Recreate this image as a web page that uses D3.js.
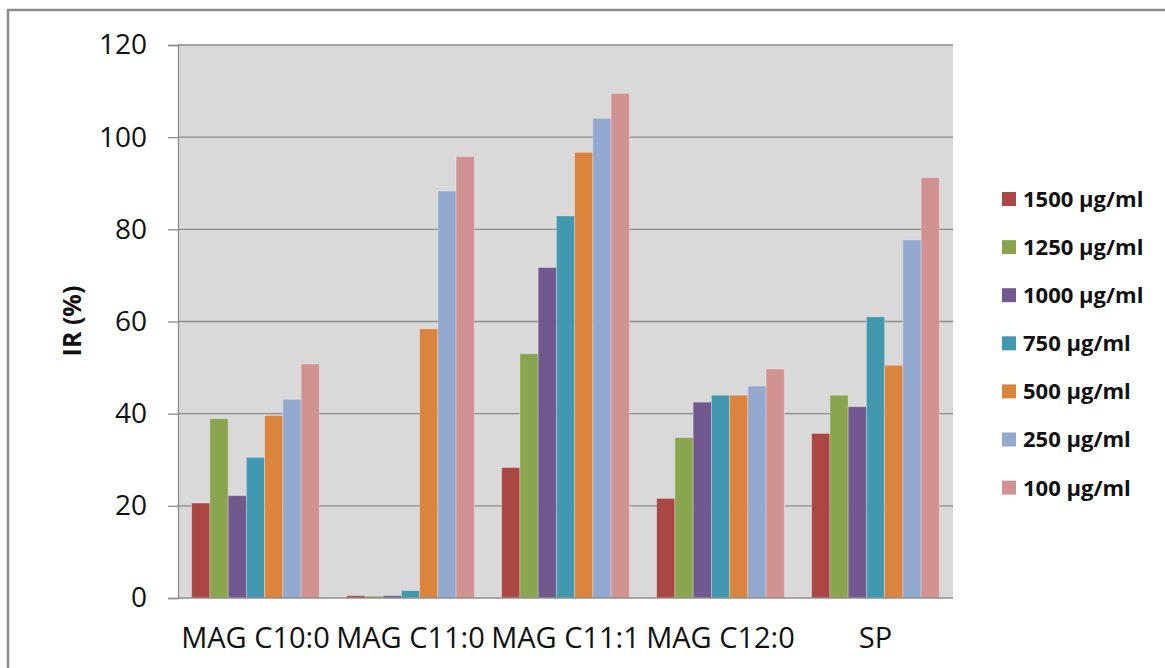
<!DOCTYPE html>
<html>
<head>
<meta charset="utf-8">
<script src="https://cdn.jsdelivr.net/npm/d3@7"></script>
<style>
  body { margin: 0; background: #fff; }
  svg { display: block; font-family: "Open Sans", sans-serif; }
</style>
</head>
<body>
<div id="chart"></div>
<script>
// data
var categories = ["MAG C10:0", "MAG C11:0", "MAG C11:1", "MAG C12:0", "SP"];
var seriesNames = ["1500 \u00b5g/ml", "1250 \u00b5g/ml", "1000 \u00b5g/ml", "750 \u00b5g/ml",
                   "500 \u00b5g/ml", "250 \u00b5g/ml", "100 \u00b5g/ml"];
var s1500 = [20.6, 0.5, 28.3, 21.6, 35.7];
var s1250 = [38.9, 0.4, 53.0, 34.8, 44.0];
var s1000 = [22.2, 0.5, 71.7, 42.5, 41.5];
var s750  = [30.5, 1.6, 82.9, 44.0, 61.0];
var s500  = [39.6, 58.4, 96.7, 44.0, 50.5];
var s250  = [43.1, 88.3, 104.1, 46.0, 77.7];
var s100  = [50.8, 95.8, 109.5, 49.7, 91.2];
var yTicks = [0, 20, 40, 60, 80, 100, 120];
var colors = ["#AA4643", "#89A54E", "#71588F", "#4198AF", "#DB843D", "#93A9CF", "#D19392"];

var allSeries = [s1500, s1250, s1000, s750, s500, s250, s100];

var width = 1165, height = 668;
var plot = {left: 178, top: 45, right: 953, bottom: 598};

var svg = d3.select("#chart").append("svg")
    .attr("width", width)
    .attr("height", height);

// outer chart frame
svg.append("rect")
    .attr("x", 8).attr("y", 10)
    .attr("width", 1200).attr("height", 700)
    .attr("fill", "none")
    .attr("stroke", "#8a8a8a")
    .attr("stroke-width", 2.5);

var x0 = d3.scaleBand().domain(categories).range([plot.left, plot.right]);
var x1 = d3.scaleBand().domain(d3.range(seriesNames.length))
    .range([0, x0.bandwidth()]).paddingOuter(0.75);
var y = d3.scaleLinear().domain([0, 120]).range([plot.bottom, plot.top]);

// plot background
svg.append("rect")
    .attr("x", plot.left).attr("y", plot.top)
    .attr("width", plot.right - plot.left).attr("height", plot.bottom - plot.top)
    .attr("fill", "#D9D9D9");

// gridlines
svg.append("g").selectAll("line").data(yTicks.filter(function(d){ return d > 0; }))
    .enter().append("line")
    .attr("x1", plot.left).attr("x2", plot.right)
    .attr("y1", function(d){ return y(d); }).attr("y2", function(d){ return y(d); })
    .attr("stroke", "#8c8c8c").attr("stroke-width", 1.3);

// bars
var groups = svg.append("g").selectAll("g").data(categories).enter().append("g")
    .attr("transform", function(d){ return "translate(" + x0(d) + ",0)"; });

groups.selectAll("rect")
    .data(function(d, ci){ return allSeries.map(function(s, si){ return {si: si, v: s[ci]}; }); })
    .enter().append("rect")
    .attr("x", function(d){ return x1(d.si); })
    .attr("width", x1.bandwidth())
    .attr("y", function(d){ return y(d.v); })
    .attr("height", function(d){ return y(0) - y(d.v); })
    .attr("fill", function(d){ return colors[d.si]; })
    .attr("stroke", "rgba(255,255,255,0.35)")
    .attr("stroke-width", 0.8);

// y axis
var yAxis = d3.axisLeft(y).tickValues(yTicks).tickSize(10).tickPadding(21);
var yg = svg.append("g").attr("transform", "translate(" + plot.left + ",0)").call(yAxis);
yg.select(".domain").attr("stroke", "#8c8c8c").attr("stroke-width", 1.3);
yg.selectAll(".tick line").attr("stroke", "#8c8c8c").attr("stroke-width", 1.3);
yg.selectAll(".tick text")
    .attr("font-size", 28).attr("fill", "#111")
    .attr("font-family", "Open Sans, sans-serif");

// x axis baseline
svg.append("line")
    .attr("x1", plot.left).attr("x2", plot.right)
    .attr("y1", plot.bottom).attr("y2", plot.bottom)
    .attr("stroke", "#8c8c8c").attr("stroke-width", 1.3);

svg.append("g").selectAll("text").data(categories).enter().append("text")
    .attr("x", function(d){ return x0(d) + x0.bandwidth() / 2; })
    .attr("y", 648)
    .attr("text-anchor", "middle")
    .attr("font-size", 29)
    .attr("fill", "#111")
    .text(function(d){ return d; });

// y axis title
svg.append("text")
    .attr("transform", "translate(81,321) rotate(-90)")
    .attr("text-anchor", "middle")
    .attr("font-size", 25)
    .attr("font-weight", "bold")
    .attr("fill", "#111")
    .text("IR (%)");

// legend
var legend = svg.append("g").selectAll("g").data(seriesNames).enter().append("g")
    .attr("transform", function(d, i){ return "translate(1002," + (199 + i * 48.1) + ")"; });
legend.append("rect")
    .attr("x", 0).attr("y", -7)
    .attr("width", 14).attr("height", 14)
    .attr("fill", function(d, i){ return colors[i]; });
legend.append("text")
    .attr("x", 21).attr("y", 0)
    .attr("dy", "0.36em")
    .attr("font-size", 22)
    .attr("font-weight", "bold")
    .attr("fill", "#111")
    .text(function(d){ return d; });
</script>
</body>
</html>
